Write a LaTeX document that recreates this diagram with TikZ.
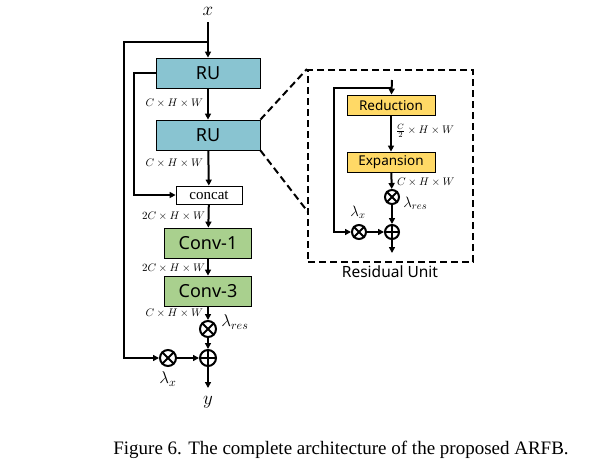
\RequirePackage{fix-cm}
\documentclass[tikz,border=0pt]{standalone}
\usepackage{fontspec}
\setmainfont{Liberation Serif}
\newfontfamily\boxfont{Noto Sans}
\usetikzlibrary{arrows.meta}
\begin{document}
\begin{tikzpicture}[x=1pt,y=-1pt,
  line width=2pt,>={Triangle[length=6pt,width=6pt]},
  blk/.style={draw=black,line width=0.8pt,minimum height=30,font=\boxfont\fontsize{18}{18}\selectfont,inner sep=0pt},
  ru/.style={blk,fill={rgb,255:red,137;green,196;blue,209},minimum width=104},
  cv/.style={blk,fill={rgb,255:red,169;green,208;blue,142},minimum width=87},
  yl/.style={blk,fill={rgb,255:red,255;green,217;blue,102},minimum width=88,minimum height=20,font=\boxfont\fontsize{13.5}{13.5}\selectfont},
  op/.style={circle,draw,line width=2pt,minimum size=16,inner sep=0pt},
  lab/.style={font=\fontsize{11}{11}\selectfont,inner sep=0pt},
  dsh/.style={dashed,line width=2pt,dash pattern=on 7pt off 4pt}]
\useasboundingbox (0,0) rectangle (610,472);
\node[font=\fontsize{19}{19}\selectfont] (x) at (208,11) {$x$};
\coordinate (xs) at (208,22);
\coordinate (br) at (208,42);
\node[ru] (ru1) at (208,73) {RU};
\node[ru] (ru2) at (208,135) {RU};
\node[blk,minimum width=66,minimum height=18,font=\fontsize{15}{15}\selectfont] (cat) at (209,195) {concat};
\node[cv] (c1) at (208,243) {Conv-1};
\node[cv] (c3) at (208,291) {Conv-3};
\node[op] (m1) at (208,329) {};
\draw (m1.north west)--(m1.south east) (m1.north east)--(m1.south west);
\node[op] (a1) at (208,358) {};
\draw (a1.north)--(a1.south) (a1.east)--(a1.west);
\node[op] (m2) at (168,358) {};
\draw (m2.north west)--(m2.south east) (m2.north east)--(m2.south west);
\node[font=\fontsize{19}{19}\selectfont] (y) at (208,402) {$y$};
\coordinate (ye) at (208,388);
\node[font=\fontsize{17}{17}\selectfont,anchor=west] (lr) at (217,322) {$\lambda_{res}$};
\node[font=\fontsize{17}{17}\selectfont] (lx) at (168,379) {$\lambda_x$};
\node[lab,anchor=east] at (204,103) {$C\times H\times W$};
\node[lab,anchor=east] at (204,163) {$C\times H\times W$};
\node[lab,anchor=east] at (206,216) {$2C\times H\times W$};
\node[lab,anchor=east] at (206,268) {$2C\times H\times W$};
\node[lab,anchor=east] at (204,313) {$C\times H\times W$};
\draw[->] (xs)--(ru1);
\draw[->] (ru1)--(ru2);
\draw[->] (ru2)--(cat);
\draw[->] (cat)--(c1);
\draw[->] (c1)--(c3);
\draw[->] (c3)--(m1);
\draw[->] (m1)--(a1);
\draw[->] (a1)--(ye);
\draw[->] (br)--(124,42)--(124,358)--(m2);
\draw[->] (m2)--(a1);
\draw[->] (ru1.west)--(134,73)--(134,195)--(cat.west);
% residual unit
\node[draw,dsh,minimum width=165,minimum height=192,inner sep=0pt] (box) at (390.5,166) {};
\draw[dsh] (ru2.north east)--(box.north west);
\draw[dsh] (ru2.south east)--(308,212);
\node[font=\boxfont\fontsize{15.5}{15.5}\selectfont] (rl) at (390,272) {Residual Unit};
\coordinate (is) at (392,80);
\coordinate (ib) at (392,88);
\node[yl] (red) at (391,105) {Reduction};
\node[yl] (exp) at (391,162) {Expansion};
\node[op,minimum size=14] (im) at (392,197) {};
\draw (im.north west)--(im.south east) (im.north east)--(im.south west);
\node[op,minimum size=14] (ia) at (392,232) {};
\draw (ia.north)--(ia.south) (ia.east)--(ia.west);
\node[op,minimum size=14] (ix) at (359,232) {};
\draw (ix.north west)--(ix.south east) (ix.north east)--(ix.south west);
\coordinate (ie) at (392,253);
\node[lab,anchor=west] at (395,131) {$\frac{C}{2}\times H\times W$};
\node[lab,anchor=west] at (396,182) {$C\times H\times W$};
\node[font=\fontsize{15}{15}\selectfont,anchor=west] at (399,203) {$\lambda_{res}$};
\node[font=\fontsize{15}{15}\selectfont] at (358,212) {$\lambda_x$};
\draw[->] (is)--(red);
\draw[->] (red)--(exp);
\draw[->] (exp)--(im);
\draw[->] (im)--(ia);
\draw[->] (ia)--(ie);
\draw[->] (ib)--(334,88)--(334,232)--(ix);
\draw[->] (ix)--(ia);
\node[font=\fontsize{19}{19}\selectfont] (cap) at (341,450) {Figure 6. The complete architecture of the proposed ARFB.};
\end{tikzpicture}
\end{document}
